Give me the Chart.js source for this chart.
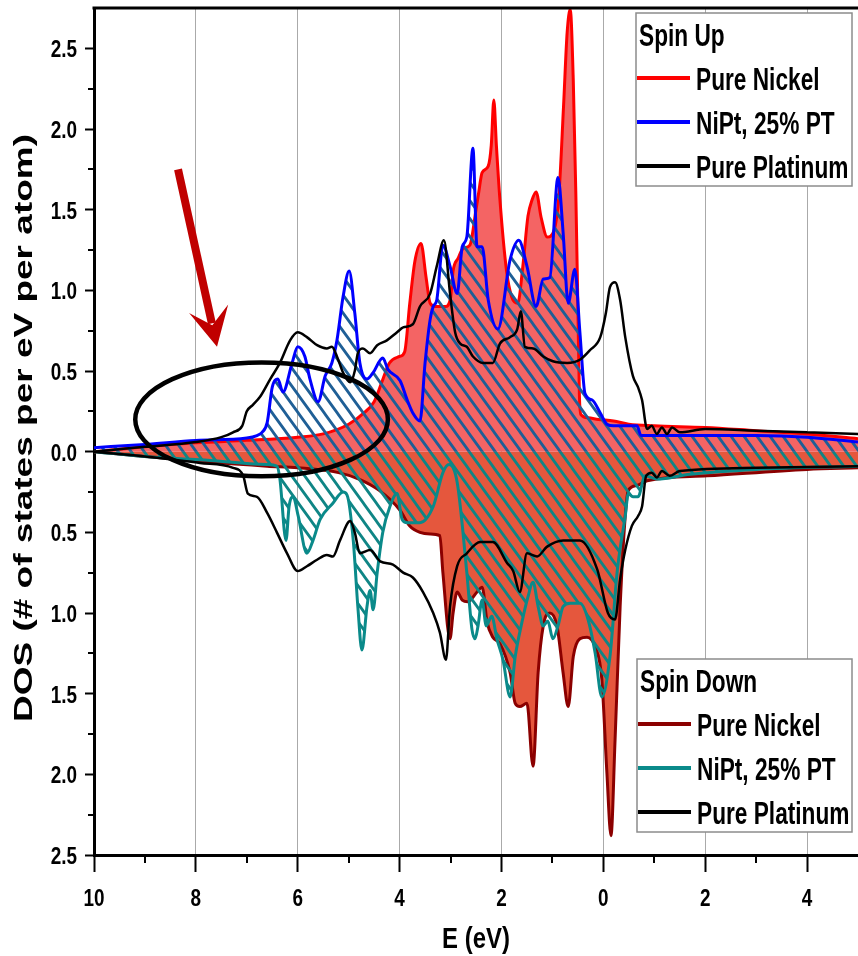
<!DOCTYPE html>
<html>
<head>
<meta charset="utf-8">
<title>DOS - Ni, NiPt, Pt</title>
<script src="https://cdn.jsdelivr.net/npm/chart.js@4.4.0/dist/chart.umd.min.js"></script>
<style>
  html, body { margin: 0; padding: 0; background: #fff; }
</style>
</head>
<body>
<canvas id="dosChart" width="858" height="956"></canvas>
<script>
// Energy grid (eV, relative to E_F) and DOS values for each curve
const niUpE = [-10, -9, -8, -7, -6, -5.5, -5, -4.7, -4.5, -4.35, -4.2, -4.0, -3.9, -3.8, -3.7, -3.58, -3.48, -3.4, -3.3, -3.1,
  -3.0, -2.95, -2.85, -2.75, -2.62, -2.5, -2.45, -2.38, -2.26, -2.2, -2.15, -2.1, -2.03, -1.9, -1.8, -1.68, -1.58, -1.48, -1.4, -1.32,
  -1.22, -1.1, -0.97, -0.87, -0.78, -0.71, -0.65, -0.59, -0.54, -0.5, -0.47, -0.44, -0.3, -0.1, 0.2, 0.5, 1, 2, 3, 4, 5];
const niUpDos = [0.0, 0.03, 0.055, 0.07, 0.09, 0.11, 0.17, 0.24, 0.31, 0.43, 0.55, 0.59, 0.62, 0.92, 1.18, 1.29, 1.08, 0.92, 0.9, 0.9,
  0.95, 1.12, 1.2, 1.26, 1.28, 1.5, 1.6, 1.73, 1.77, 1.9, 2.18, 1.9, 1.56, 1.12, 0.96, 0.92, 1.15, 1.46, 1.56, 1.61,
  1.45, 1.33, 1.37, 1.6, 2.15, 2.6, 2.74, 2.3, 1.6, 0.9, 0.35, 0.23, 0.21, 0.2, 0.19, 0.17, 0.16, 0.15, 0.13, 0.11, 0.08];

const niPtUpE = [-10, -9, -8, -7, -6.8, -6.7, -6.6, -6.5, -6.39, -6.29, -6.11, -6.0, -5.86, -5.76, -5.6, -5.46, -5.33, -5.23, -5.11, -4.99,
  -4.88, -4.78, -4.64, -4.52, -4.33, -4.23, -3.99, -3.85, -3.74, -3.6, -3.5, -3.4, -3.34, -3.27, -3.15, -3.01, -2.87, -2.77, -2.68, -2.56,
  -2.48, -2.38, -2.26, -2.07, -1.83, -1.66, -1.5, -1.32, -1.18, -1.05, -0.89, -0.79, -0.69, -0.56, -0.46, -0.36, -0.22, -0.06, 0.07, 0.2,
  0.66, 0.74, 1.5, 3, 4, 5];
const niPtUpDos = [0.025, 0.045, 0.07, 0.085, 0.1, 0.12, 0.18, 0.4, 0.45, 0.37, 0.55, 0.65, 0.59, 0.45, 0.31, 0.47, 0.55, 0.69, 0.96, 1.12,
  0.86, 0.55, 0.45, 0.49, 0.58, 0.51, 0.44, 0.32, 0.24, 0.19, 0.55, 0.82, 0.9, 0.94, 1.28, 1.15, 0.98, 1.27, 1.33, 1.88,
  1.27, 1.27, 0.94, 0.76, 1.19, 1.31, 1.15, 0.9, 1.07, 1.08, 1.7, 1.36, 0.92, 1.13, 0.74, 0.36, 0.32, 0.24, 0.17, 0.16,
  0.16, 0.1, 0.1, 0.1, 0.09, 0.06];

const ptUpE = [-10, -9, -8, -7.5, -7.27, -7.09, -7.0, -6.88, -6.74, -6.54, -6.35, -6.15, -6.0, -5.82, -5.62, -5.43, -5.33, -5.23, -5.11, -4.97,
  -4.88, -4.82, -4.72, -4.58, -4.44, -4.25, -4.05, -3.93, -3.74, -3.6, -3.4, -3.27, -3.13, -3.01, -2.91, -2.81, -2.68, -2.56, -2.36, -2.17,
  -2.03, -1.83, -1.69, -1.62, -1.54, -1.38, -1.18, -0.99, -0.71, -0.46, -0.26, -0.06, 0.05, 0.13, 0.23, 0.33, 0.43, 0.58, 0.68, 0.76,
  0.86, 0.95, 1.05, 1.15, 1.25, 1.35, 1.5, 2, 3, 4, 5];
const ptUpDos = [0.0, 0.03, 0.06, 0.09, 0.12, 0.16, 0.25, 0.29, 0.34, 0.45, 0.55, 0.69, 0.74, 0.71, 0.66, 0.64, 0.65, 0.59, 0.49, 0.43,
  0.5, 0.61, 0.64, 0.61, 0.66, 0.69, 0.74, 0.77, 0.79, 0.9, 0.98, 1.15, 1.31, 0.98, 0.74, 0.67, 0.65, 0.59, 0.55, 0.55,
  0.67, 0.71, 0.76, 0.87, 0.65, 0.64, 0.59, 0.56, 0.55, 0.57, 0.63, 0.71, 0.86, 1.02, 1.05, 0.94, 0.71, 0.47, 0.4, 0.32,
  0.14, 0.16, 0.11, 0.15, 0.11, 0.15, 0.12, 0.14, 0.13, 0.12, 0.11];

const niDownE = [-10, -9, -7.92, -6.6, -6.0, -5.2, -4.8, -4.4, -4.0, -3.8, -3.6, -3.4, -3.21, -3.15, -3.01, -2.95, -2.87, -2.77, -2.66, -2.48,
  -2.38, -2.28, -2.17, -2.03, -1.83, -1.73, -1.64, -1.5, -1.38, -1.28, -1.18, -1.05, -0.91, -0.79, -0.69, -0.59, -0.46, -0.32, -0.16, -0.03,
  0.07, 0.15, 0.23, 0.33, 0.43, 0.49, 0.66, 0.86, 2.04, 4.0, 5];
const niDownDos = [0.0, -0.03, -0.06, -0.09, -0.1, -0.13, -0.17, -0.24, -0.36, -0.46, -0.5, -0.51, -0.52, -0.75, -1.16, -1.0, -0.87, -0.92, -0.93, -0.87,
  -0.84, -1.06, -1.15, -1.19, -1.37, -1.56, -1.58, -1.56, -1.95, -1.37, -1.08, -1.0, -1.08, -1.37, -1.58, -1.27, -1.16, -1.15, -1.21, -1.41,
  -1.99, -2.38, -1.79, -0.96, -0.4, -0.24, -0.21, -0.18, -0.15, -0.11, -0.1];

const niPtDownE = [-10, -9, -7.92, -6.6, -6.41, -6.35, -6.23, -6.17, -6.09, -5.99, -5.82, -5.7, -5.56, -5.31, -5.11, -5.03, -4.91, -4.82, -4.74, -4.64,
  -4.58, -4.52, -4.44, -4.33, -4.19, -4.05, -3.95, -3.85, -3.6, -3.34, -3.15, -3.03, -2.87, -2.68, -2.58, -2.52, -2.46, -2.38, -2.3, -2.19,
  -2.09, -1.97, -1.83, -1.73, -1.6, -1.48, -1.38, -1.28, -1.18, -1.09, -0.99, -0.89, -0.79, -0.65, -0.46, -0.3, -0.16, -0.03, 0.13, 0.27,
  0.33, 0.43, 0.49, 0.58, 0.68, 0.82, 1.05, 1.7, 3.0, 5];
const niPtDownDos = [0.0, -0.03, -0.05, -0.08, -0.09, -0.17, -0.55, -0.34, -0.28, -0.4, -0.63, -0.55, -0.42, -0.32, -0.25, -0.27, -0.55, -0.96, -1.23, -0.96,
  -0.86, -0.98, -0.75, -0.5, -0.34, -0.26, -0.42, -0.44, -0.44, -0.34, -0.13, -0.08, -0.19, -0.75, -1.1, -1.16, -1.08, -0.92, -1.08, -1.02,
  -1.16, -1.29, -1.52, -1.27, -1.06, -0.9, -0.81, -0.96, -1.08, -1.05, -1.16, -1.08, -0.96, -0.94, -0.94, -1.04, -1.25, -1.52, -1.27, -0.75,
  -0.6, -0.4, -0.26, -0.28, -0.28, -0.15, -0.17, -0.14, -0.11, -0.09];

const ptDownE = [-10, -9, -7.92, -7.27, -7.07, -6.98, -6.8, -6.6, -6.41, -6.21, -6.0, -5.82, -5.62, -5.43, -5.31, -5.17, -4.97, -4.88, -4.78, -4.58,
  -4.38, -4.13, -3.93, -3.74, -3.54, -3.34, -3.21, -3.09, -3.01, -2.87, -2.68, -2.42, -2.17, -1.89, -1.77, -1.64, -1.5, -1.3, -1.11, -0.79,
  -0.46, -0.12, 0.09, 0.23, 0.33, 0.43, 0.56, 0.68, 0.76, 0.84, 0.95, 1.05, 1.15, 1.3, 1.5, 3, 5];
const ptDownDos = [0.0, -0.03, -0.07, -0.1, -0.15, -0.26, -0.28, -0.38, -0.5, -0.63, -0.74, -0.71, -0.67, -0.64, -0.65, -0.55, -0.43, -0.5, -0.63, -0.61,
  -0.68, -0.7, -0.75, -0.78, -0.87, -1.0, -1.12, -1.29, -0.96, -0.71, -0.63, -0.56, -0.56, -0.69, -0.74, -0.87, -0.63, -0.65, -0.59, -0.55,
  -0.55, -0.73, -1.0, -1.04, -0.79, -0.61, -0.46, -0.4, -0.34, -0.15, -0.13, -0.16, -0.12, -0.15, -0.12, -0.1, -0.09];

// Axis ranges and ticks
const eMin = -10, eMax = 5, eStep = 2;
const dosMin = -2.5, dosMax = 2.75, dosStep = 0.5;
const eMinorTicks = [-9, -7, -5, -3, -1, 1, 3];
const dosMinorTicks = [-2.25, -1.75, -1.25, -0.75, -0.25, 0.25, 0.75, 1.25, 1.75, 2.25];

// Circled region and arrow pointing at it (data coordinates)
const circleCenter = [-6.71, 0.2];
const circleRadii = [2.48, 0.353];
const arrowFrom = [-8.35, 1.75];
const arrowTo = [-7.585, 0.65];

const upLabels = ['Pure Nickel', 'NiPt, 25% PT', 'Pure Platinum'];
const downLabels = ['Pure Nickel', 'NiPt, 25% PT', 'Pure Platinum'];

const SANS = "'Liberation Sans', Arial, sans-serif";

const upColors = ['#ff0000', '#0000ff', '#000000'];
const downColors = ['#8b0000', '#0a8a8a', '#000000'];

// Diagonal hatch used under the NiPt curves
function hatch(color) {
  const w = 13, h = 18;
  const c = document.createElement('canvas');
  c.width = w; c.height = h;
  const g = c.getContext('2d');
  g.strokeStyle = color;
  g.lineWidth = 2.8;
  g.beginPath();
  g.moveTo(-w, -h); g.lineTo(2 * w, 2 * h);
  g.moveTo(-w, 0); g.lineTo(w, 2 * h);
  g.moveTo(0, -h); g.lineTo(2 * w, h);
  g.stroke();
  return g.createPattern(c, 'repeat');
}

function points(xs, ys) {
  return xs.map((x, i) => ({ x: x, y: ys[i] }));
}

function curve(label, xs, ys, color, fill, order, width) {
  return {
    label: label,
    data: points(xs, ys),
    borderColor: color,
    borderWidth: width,
    backgroundColor: fill || 'transparent',
    fill: fill ? 'origin' : false,
    pointRadius: 0,
    cubicInterpolationMode: 'monotone',
    order: order
  };
}

// Condensed, tall bold lettering (narrow font is not available)
function tallText(ctx, text, x, y, sx, sy) {
  ctx.save();
  ctx.translate(x, y);
  ctx.scale(sx, sy);
  ctx.fillText(text, 0, 0);
  ctx.restore();
}

function drawLegend(ctx, box, title, labels, colors) {
  ctx.save();
  ctx.fillStyle = '#fff';
  ctx.fillRect(box.x, box.y, box.w, box.h);
  ctx.strokeStyle = '#8c8c8c';
  ctx.lineWidth = 1.5;
  ctx.strokeRect(box.x, box.y, box.w, box.h);
  ctx.font = 'bold 27px ' + SANS;
  ctx.fillStyle = '#000';
  ctx.textAlign = 'left';
  ctx.textBaseline = 'alphabetic';
  tallText(ctx, title, box.x + 3, box.y + 33, 0.84, 1.15);
  labels.forEach((label, i) => {
    const y = box.y + 65 + i * 44;
    ctx.strokeStyle = colors[i];
    ctx.lineWidth = 4;
    ctx.beginPath();
    ctx.moveTo(box.x + 1, y);
    ctx.lineTo(box.x + 54, y);
    ctx.stroke();
    tallText(ctx, label, box.x + 60, y + 12, 0.84, 1.15);
  });
  ctx.restore();
}

const extras = {
  id: 'extras',
  afterDatasetsDraw(chart) {
    const ctx = chart.ctx;
    const xs = chart.scales.x, ys = chart.scales.y;
    ctx.save();
    // ellipse around the low-energy Pt/NiPt states
    const cx = xs.getPixelForValue(circleCenter[0]);
    const cy = ys.getPixelForValue(circleCenter[1]);
    const rx = xs.getPixelForValue(circleCenter[0] + circleRadii[0]) - cx;
    const ry = cy - ys.getPixelForValue(circleCenter[1] + circleRadii[1]);
    ctx.strokeStyle = '#000';
    ctx.lineWidth = 4.5;
    ctx.beginPath();
    ctx.ellipse(cx, cy, rx, ry, 0, 0, Math.PI * 2);
    ctx.stroke();

    // arrow
    const x0 = xs.getPixelForValue(arrowFrom[0]), y0 = ys.getPixelForValue(arrowFrom[1]);
    const x1 = xs.getPixelForValue(arrowTo[0]), y1 = ys.getPixelForValue(arrowTo[1]);
    const len = Math.hypot(x1 - x0, y1 - y0);
    const ux = (x1 - x0) / len, uy = (y1 - y0) / len;
    const nx = -uy, ny = ux;
    const headLen = 39, headHalf = 20, notch = 22;
    ctx.strokeStyle = '#c00000';
    ctx.fillStyle = '#c00000';
    ctx.lineWidth = 8;
    ctx.beginPath();
    ctx.moveTo(x0, y0);
    ctx.lineTo(x1 - ux * (notch + 2), y1 - uy * (notch + 2));
    ctx.stroke();
    ctx.beginPath();
    ctx.moveTo(x1, y1);
    ctx.lineTo(x1 - ux * headLen + nx * headHalf, y1 - uy * headLen + ny * headHalf);
    ctx.lineTo(x1 - ux * notch, y1 - uy * notch);
    ctx.lineTo(x1 - ux * headLen - nx * headHalf, y1 - uy * headLen - ny * headHalf);
    ctx.closePath();
    ctx.fill();
    ctx.restore();
  },
  afterDraw(chart) {
    const ctx = chart.ctx;
    const area = chart.chartArea;
    const xs = chart.scales.x, ys = chart.scales.y;
    ctx.save();
    // top frame line
    ctx.strokeStyle = '#000';
    ctx.lineWidth = 3;
    ctx.beginPath();
    ctx.moveTo(area.left - 1.5, area.top);
    ctx.lineTo(area.right, area.top);
    ctx.stroke();

    // minor ticks
    ctx.lineWidth = 2;
    ctx.beginPath();
    eMinorTicks.forEach(v => {
      const px = Math.round(xs.getPixelForValue(v));
      ctx.moveTo(px, area.bottom);
      ctx.lineTo(px, area.bottom + 8);
    });
    dosMinorTicks.forEach(v => {
      const py = Math.round(ys.getPixelForValue(v));
      ctx.moveTo(area.left, py);
      ctx.lineTo(area.left - 6, py);
    });
    ctx.stroke();

    // tick labels, shown as magnitudes
    ctx.fillStyle = '#000';
    ctx.font = 'bold 22px ' + SANS;
    ctx.textBaseline = 'alphabetic';
    ctx.textAlign = 'center';
    xs.ticks.forEach(t => {
      tallText(ctx, String(Math.abs(t.value)), xs.getPixelForValue(t.value), area.bottom + 51, 0.86, 1.12);
    });
    ctx.textAlign = 'right';
    ys.ticks.forEach(t => {
      tallText(ctx, Math.abs(t.value).toFixed(1), area.left - 17, ys.getPixelForValue(t.value) + 9, 0.86, 1.12);
    });

    // axis titles
    ctx.textAlign = 'center';
    ctx.font = 'bold 26px ' + SANS;
    tallText(ctx, 'E (eV)', (area.left + area.right) / 2, area.bottom + 93, 0.92, 1.15);
    ctx.font = 'bold 25px ' + SANS;
    ctx.translate(32, 428);
    ctx.rotate(-Math.PI / 2);
    ctx.scale(1.48, 1);
    ctx.fillText('DOS (# of states per eV per atom)', 0, 0);
    ctx.restore();

    drawLegend(ctx, { x: 636, y: 13, w: 216, h: 173 }, 'Spin Up', upLabels, upColors);
    drawLegend(ctx, { x: 637, y: 659, w: 215, h: 173 }, 'Spin Down', downLabels, downColors);
  }
};

new Chart(document.getElementById('dosChart'), {
  type: 'line',
  data: {
    datasets: [
      curve('Pure Nickel (up)', niUpE, niUpDos, upColors[0], '#f46464', 5, 3),
      curve('NiPt, 25% PT (up)', niPtUpE, niPtUpDos, upColors[1], hatch('#1f5f96'), 3, 3),
      curve('Pure Platinum (up)', ptUpE, ptUpDos, upColors[2], null, 1, 2.5),
      curve('Pure Nickel (down)', niDownE, niDownDos, downColors[0], '#e5573d', 6, 3),
      curve('NiPt, 25% PT (down)', niPtDownE, niPtDownDos, downColors[1], hatch('#0f8585'), 4, 3),
      curve('Pure Platinum (down)', ptDownE, ptDownDos, downColors[2], null, 2, 2.5)
    ]
  },
  options: {
    responsive: false,
    animation: false,
    devicePixelRatio: 1,
    layout: { padding: { top: 8, right: 0, left: 0, bottom: 0 } },
    plugins: {
      legend: { display: false },
      tooltip: { enabled: false }
    },
    scales: {
      x: {
        type: 'linear',
        min: eMin,
        max: eMax,
        afterFit: scale => { scale.height = 101; },
        ticks: { stepSize: eStep, includeBounds: false, display: false },
        grid: {
          color: '#aaaaaa',
          lineWidth: 1,
          tickColor: '#000',
          tickWidth: 2,
          tickLength: 17
        },
        border: { color: '#000', width: 3 }
      },
      y: {
        type: 'linear',
        min: dosMin,
        max: dosMax,
        afterFit: scale => { scale.width = 94; },
        ticks: { stepSize: dosStep, includeBounds: false, display: false },
        grid: {
          drawOnChartArea: false,
          tickColor: '#000',
          tickWidth: 2,
          tickLength: 9
        },
        border: { color: '#000', width: 3 }
      }
    }
  },
  plugins: [extras]
});
</script>
</body>
</html>
